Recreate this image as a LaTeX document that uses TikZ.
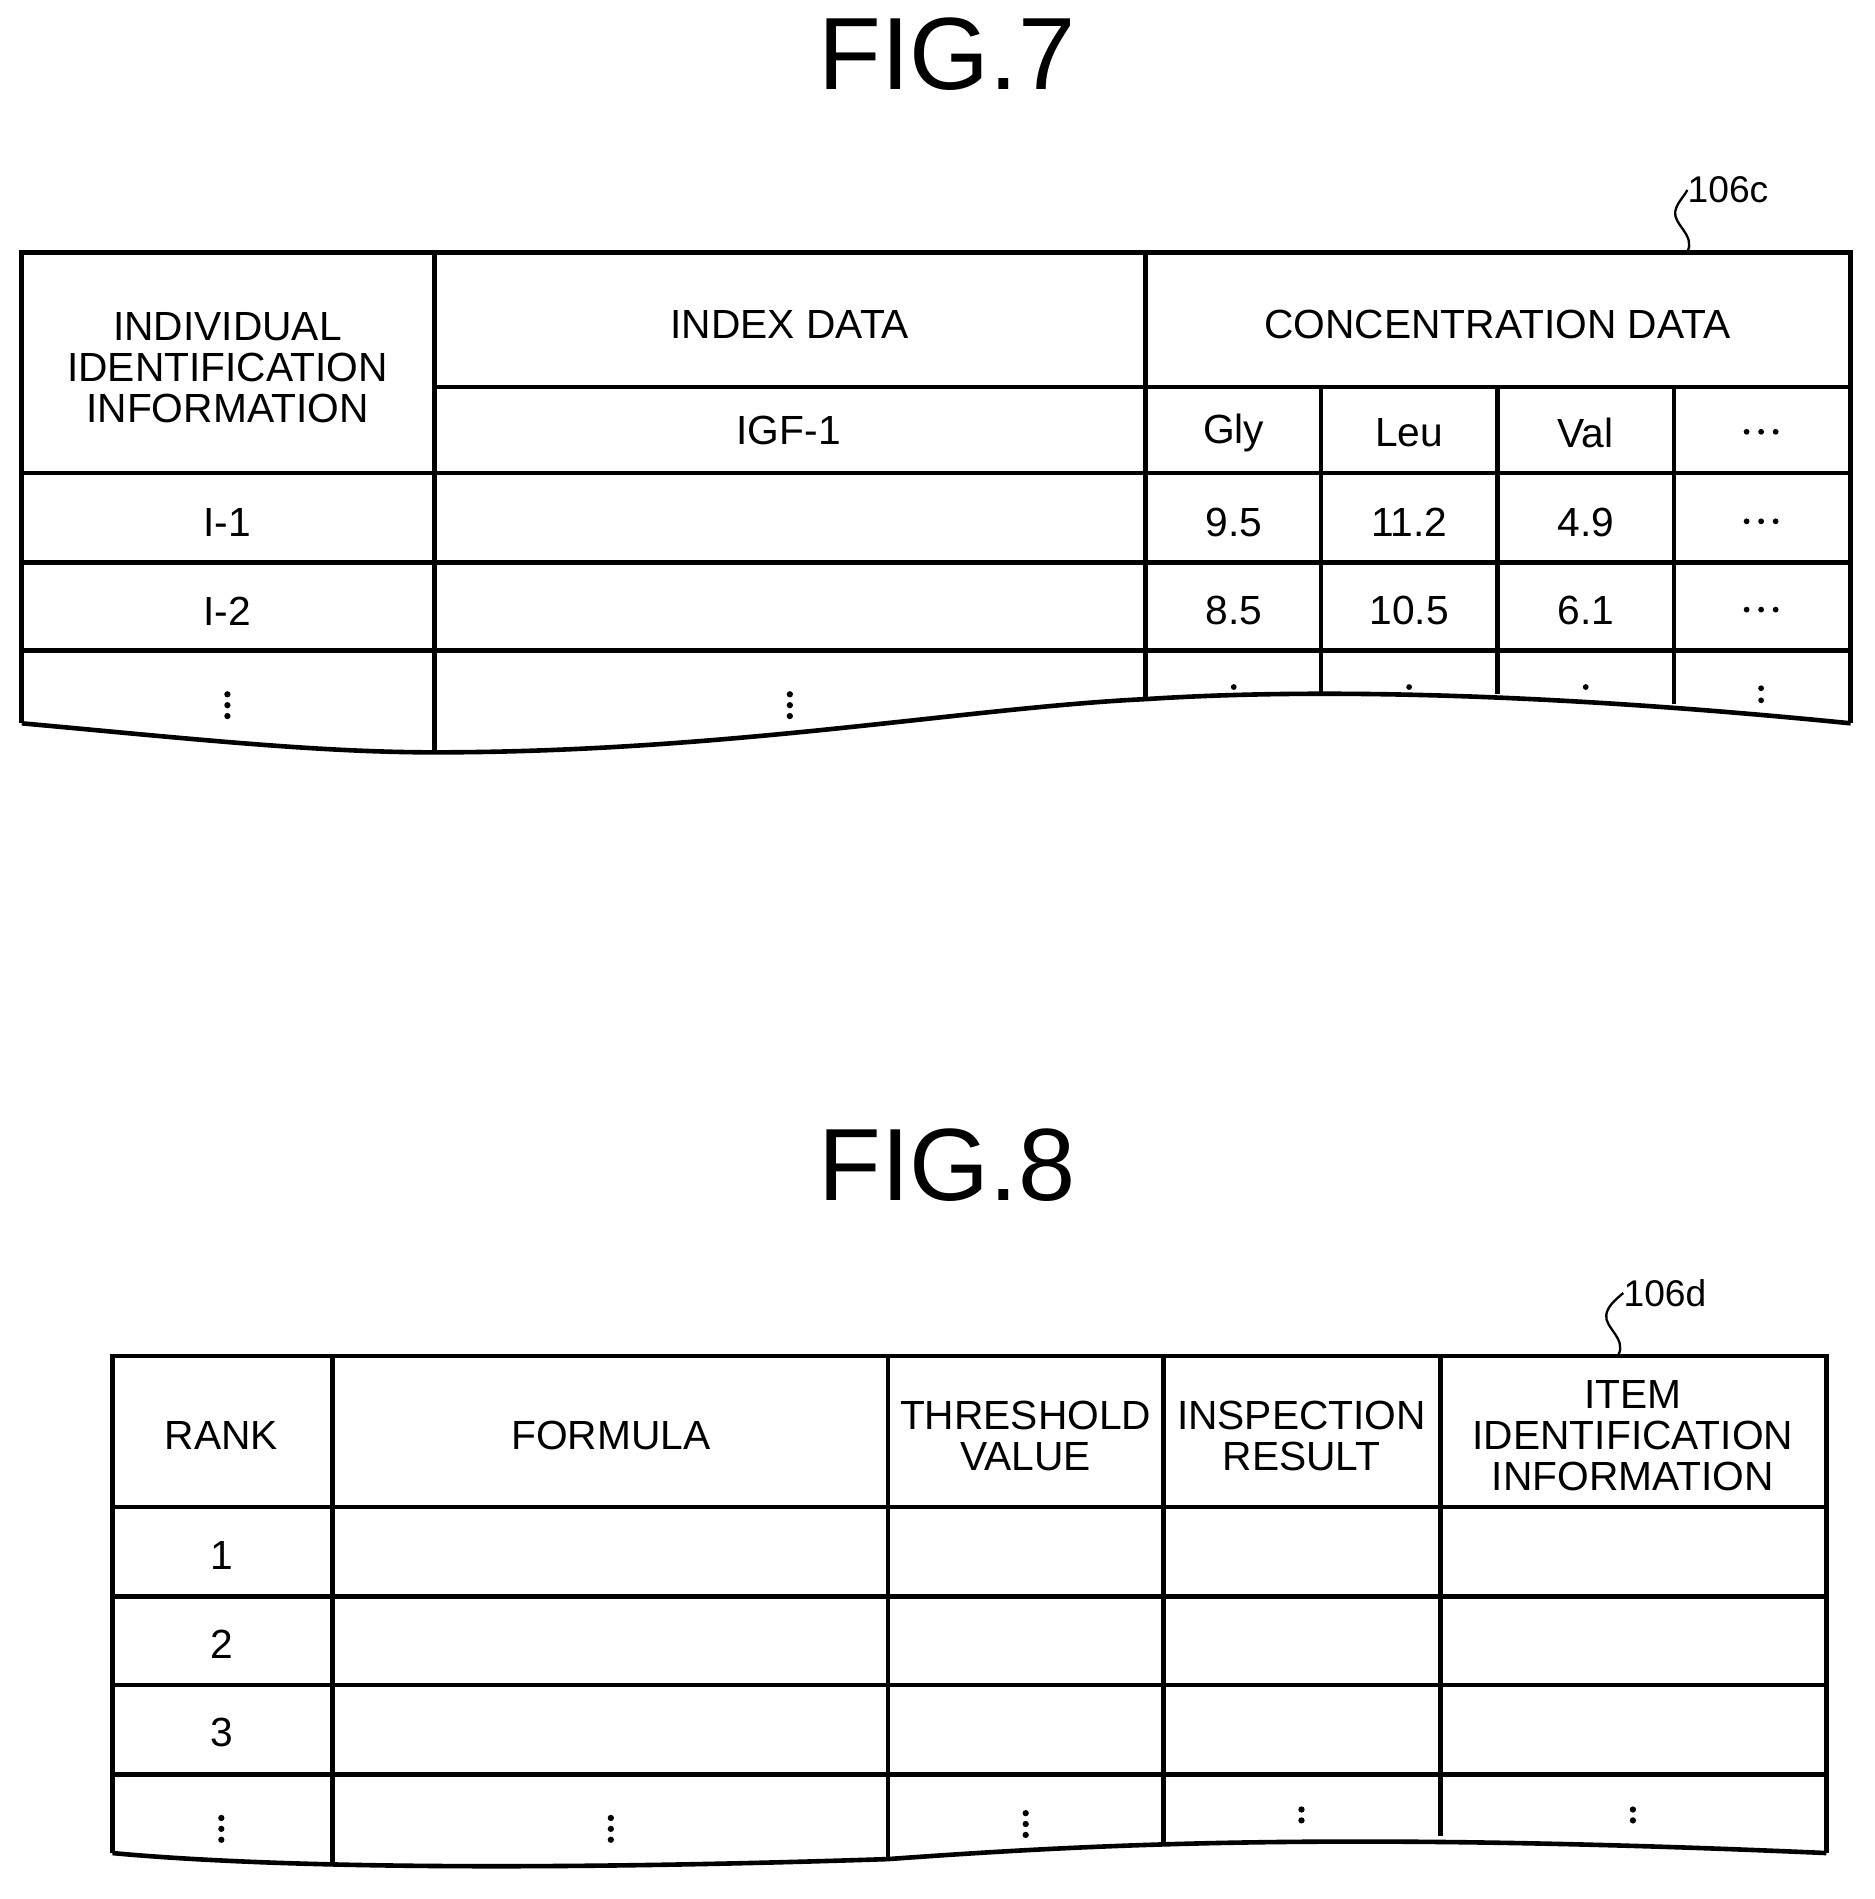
\documentclass[tikz,border=0pt]{standalone}
\usepackage{fontspec}
\setmainfont{Liberation Sans}
\begin{document}
\begin{tikzpicture}[x=0.024cm,y=-0.024cm,
  frame/.style={line width=2.6pt},
  cell/.style={font=\fontsize{23}{23}\selectfont,align=center,inner sep=0pt},
  title/.style={font=\fontsize{58}{58}\selectfont,inner sep=0pt},
  lbl/.style={font=\fontsize{21}{21}\selectfont,inner sep=0pt,anchor=west},
  vd/.pic={\fill (0,-9) circle (2.6); \fill (0,0) circle (2.6); \fill (0,9) circle (2.6);},
  hd/.pic={\fill (-12,0) circle (2.4); \fill (0,0) circle (2.4); \fill (12,0) circle (2.4);}]
\useasboundingbox (0,0) rectangle (1550,1570);
% FIG 7
\node[title] (t7) at (783,45) {FIG.7};
\draw[frame] (18,598) -- (18,209) -- (1530,209) -- (1530,598);
\draw[frame] (18,598) .. controls (150,610) and (260,622) .. (359,622) .. controls (600,622) and (800,585) .. (947,578) .. controls (1100,568) and (1300,575) .. (1530,598);
\draw[frame] (359,209) -- (359,622);
\draw[frame] (947,209) -- (947,578);
\draw[frame] (1092,320) -- (1092,572);
\draw[frame] (1238,320) -- (1238,574);
\draw[frame] (1384,320) -- (1384,582);
\draw[frame] (359,320) -- (1530,320);
\draw[frame] (18,391) -- (1530,391);
\draw[frame] (18,465) -- (1530,465);
\draw[frame] (18,538) -- (1530,538);
\node[cell] (h1) at (188,304) {INDIVIDUAL\\IDENTIFICATION\\INFORMATION};
\node[cell] (h2) at (653,268) {INDEX DATA};
\node[cell] (h3) at (1238,268) {CONCENTRATION DATA};
\node[cell] (s1) at (652,356) {IGF-1};
\node[cell] (s2) at (1020,358) {Gly};
\node[cell] (s3) at (1165,358) {Leu};
\node[cell] (s4) at (1311,358) {Val};
\pic at (1456,357) {hd};
\node[cell] (r11) at (188,432) {I-1};
\node[cell] (r12) at (1020,432) {9.5};
\node[cell] (r13) at (1165,432) {11.2};
\node[cell] (r14) at (1311,432) {4.9};
\pic at (1456,431) {hd};
\node[cell] (r21) at (188,505) {I-2};
\node[cell] (r22) at (1020,505) {8.5};
\node[cell] (r23) at (1165,505) {10.5};
\node[cell] (r24) at (1311,505) {6.1};
\pic at (1456,504) {hd};
\pic at (188,583) {vd};
\pic at (653,583) {vd};
\foreach \x in {1020,1165,1311} \fill (\x,568) circle (2.4);
\fill (1456,569) circle (2.4); \fill (1456,579) circle (2.4);
\node[lbl] (l7) at (1395,157) {106c};
\coordinate (a7) at (1395,208);
\draw[line width=1.3pt] (a7) .. controls (1402,195) and (1383,185) .. (1385,175) .. controls (1386,168) and (1392,163) .. (l7.west);
% FIG 8
\node[title] (t8) at (783,963) {FIG.8};
\draw[frame] (93,1532) -- (93,1121) -- (1510,1121) -- (1510,1532);
\draw[frame] (93,1532) .. controls (200,1542) and (400,1548) .. (734,1537) .. controls (900,1525) and (1100,1514) .. (1510,1532);
\draw[frame] (275,1121) -- (275,1542);
\draw[frame] (734,1121) -- (734,1537);
\draw[frame] (962,1121) -- (962,1524);
\draw[frame] (1191,1121) -- (1191,1518);
\foreach \y in {1246,1320,1393,1467} \draw[frame] (93,\y) -- (1510,\y);
\node[cell] (g1) at (183,1187) {RANK};
\node[cell] (g2) at (505,1187) {FORMULA};
\node[cell] (g3) at (848,1187) {THRESHOLD\\VALUE};
\node[cell] (g4) at (1076,1187) {INSPECTION\\RESULT};
\node[cell] (g5) at (1350,1187) {ITEM\\IDENTIFICATION\\INFORMATION};
\node[cell] (n1) at (183,1286) {1};
\node[cell] (n2) at (183,1359) {2};
\node[cell] (n3) at (183,1432) {3};
\pic at (183,1512) {vd};
\pic at (505,1512) {vd};
\pic at (848,1508) {vd};
\fill (1076,1496) circle (2.6); \fill (1076,1505) circle (2.6);
\fill (1350,1496) circle (2.6); \fill (1350,1505) circle (2.6);
\node[lbl] (l8) at (1342,1069) {106d};
\coordinate (a8) at (1338,1120);
\draw[line width=1.3pt] (a8) .. controls (1345,1107) and (1326,1097) .. (1328,1087) .. controls (1329,1080) and (1335,1075) .. (l8.west);
\end{tikzpicture}
\end{document}
